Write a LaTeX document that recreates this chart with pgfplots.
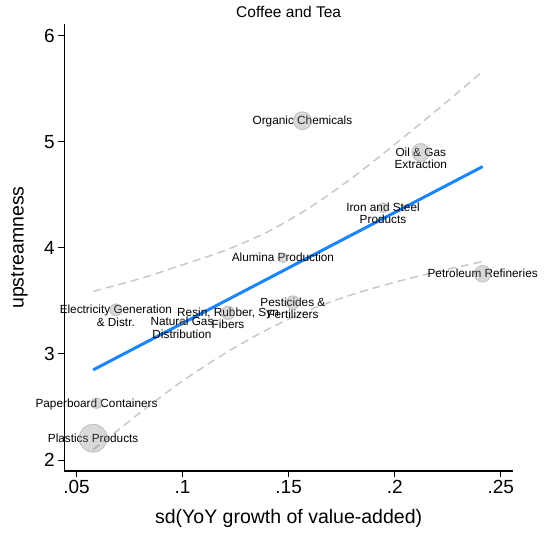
\documentclass[border=0pt]{standalone}
\usepackage{fontspec}
\setmainfont{Liberation Sans}
\usepackage{pgfplots}
\pgfplotsset{compat=1.18}

\definecolor{fitblue}{RGB}{26,133,255}
\definecolor{cigray}{RGB}{200,200,200}
\definecolor{bubfill}{RGB}{128,128,128}
\definecolor{bubedge}{RGB}{150,150,150}

% one bubble: x, y, radius (pt)
\newcommand{\bubble}[3]{%
  \addplot[only marks, mark=*, mark size=#3,
    mark options={fill=bubfill, fill opacity=0.3, draw=bubedge, draw opacity=0.45, line width=0.9pt}]
    coordinates {(#1,#2)};}

\begin{document}
\begin{tikzpicture}
\useasboundingbox (-64.3pt,-63pt) rectangle (480.7pt,471pt);
\begin{axis}[
  scale only axis, width=448.7pt, height=447pt,
  at={(0,0)}, anchor=south west,
  xmin=0.0442, xmax=0.2558, ymin=1.896, ymax=6.11,
  axis lines*=left,
  axis line style={line width=1pt, black},
  xtick={0.05,0.1,0.15,0.2,0.25},
  xticklabels={.05,.1,.15,.2,.25},
  ytick={2,3,4,5,6},
  tick align=outside, major tick length=6pt,
  tick style={line width=0.8pt, black},
  /pgf/number format/assume math mode=true,
  ticklabel style={font=\fontsize{19}{19}\selectfont},
  xlabel={sd(YoY growth of value-added)},
  ylabel={upstreamness},
  xlabel style={at={(rel axis cs:0.5,-0.106)}, anchor=center, font=\fontsize{19.5}{19.5}\selectfont},
  ylabel style={at={(rel axis cs:-0.1,0.5)}, anchor=center, rotate=0, font=\fontsize{19.5}{19.5}\selectfont},
  title={Coffee and Tea},
  every axis title shift=0pt,
  title style={at={(rel axis cs:0.5,1.028)}, anchor=center, font=\fontsize{15.5}{15.5}\selectfont},
  clip=false,
]
% confidence band of the linear fit
\addplot[cigray, line width=1.5pt, dash pattern=on 8pt off 5pt, smooth] coordinates {
  (0.0578,3.590) (0.0800,3.710) (0.1000,3.840) (0.1200,3.975) (0.1400,4.150)
  (0.1600,4.380) (0.1800,4.660) (0.2000,4.975) (0.2200,5.300) (0.2415,5.663)};
\addplot[cigray, line width=1.5pt, dash pattern=on 8pt off 5pt, smooth] coordinates {
  (0.0578,2.098) (0.0800,2.446) (0.1000,2.745) (0.1200,3.005) (0.1400,3.230)
  (0.1600,3.415) (0.1800,3.560) (0.2000,3.675) (0.2200,3.775) (0.2415,3.870)};
% linear fit
\addplot[fitblue, line width=3pt] coordinates {(0.0578,2.849) (0.2415,4.766)};

% industries, bubble size by weight
\bubble{0.0578}{2.205}{14}
\bubble{0.0594}{2.535}{5.5}
\bubble{0.0685}{3.415}{6}
\bubble{0.0997}{3.300}{3}
\bubble{0.1214}{3.387}{6.7}
\bubble{0.1520}{3.485}{6.7}
\bubble{0.1473}{3.906}{5}
\bubble{0.1565}{5.198}{9}
\bubble{0.2123}{4.899}{9}
\bubble{0.1945}{4.377}{5}
\bubble{0.2415}{3.755}{8.3}

\begin{scope}[every node/.style={anchor=mid, align=center, inner sep=0pt,
    yshift=-1.2pt, font=\fontsize{11.8}{12.3}\selectfont},
    two/.style={yshift=-12.3pt}]
\node at (axis cs:0.0578,2.205) {Plastics Products};
\node at (axis cs:0.0594,2.535) {Paperboard Containers};
\node[two] at (axis cs:0.0685,3.415) {Electricity Generation\\\& Distr.};
\node[two] at (axis cs:0.0997,3.300) {Natural Gas\\Distribution};
\node[two] at (axis cs:0.1214,3.387) {Resin, Rubber, Syn\\Fibers};
\node[two] at (axis cs:0.1520,3.485) {Pesticides \&\\Fertilizers};
\node at (axis cs:0.1473,3.906) {Alumina Production};
\node at (axis cs:0.1565,5.198) {Organic Chemicals};
\node[two] at (axis cs:0.2123,4.899) {Oil \& Gas\\Extraction};
\node[two] at (axis cs:0.1945,4.377) {Iron and Steel\\Products};
\node at (axis cs:0.2415,3.755) {Petroleum Refineries};
\end{scope}
\end{axis}
\end{tikzpicture}
\end{document}
